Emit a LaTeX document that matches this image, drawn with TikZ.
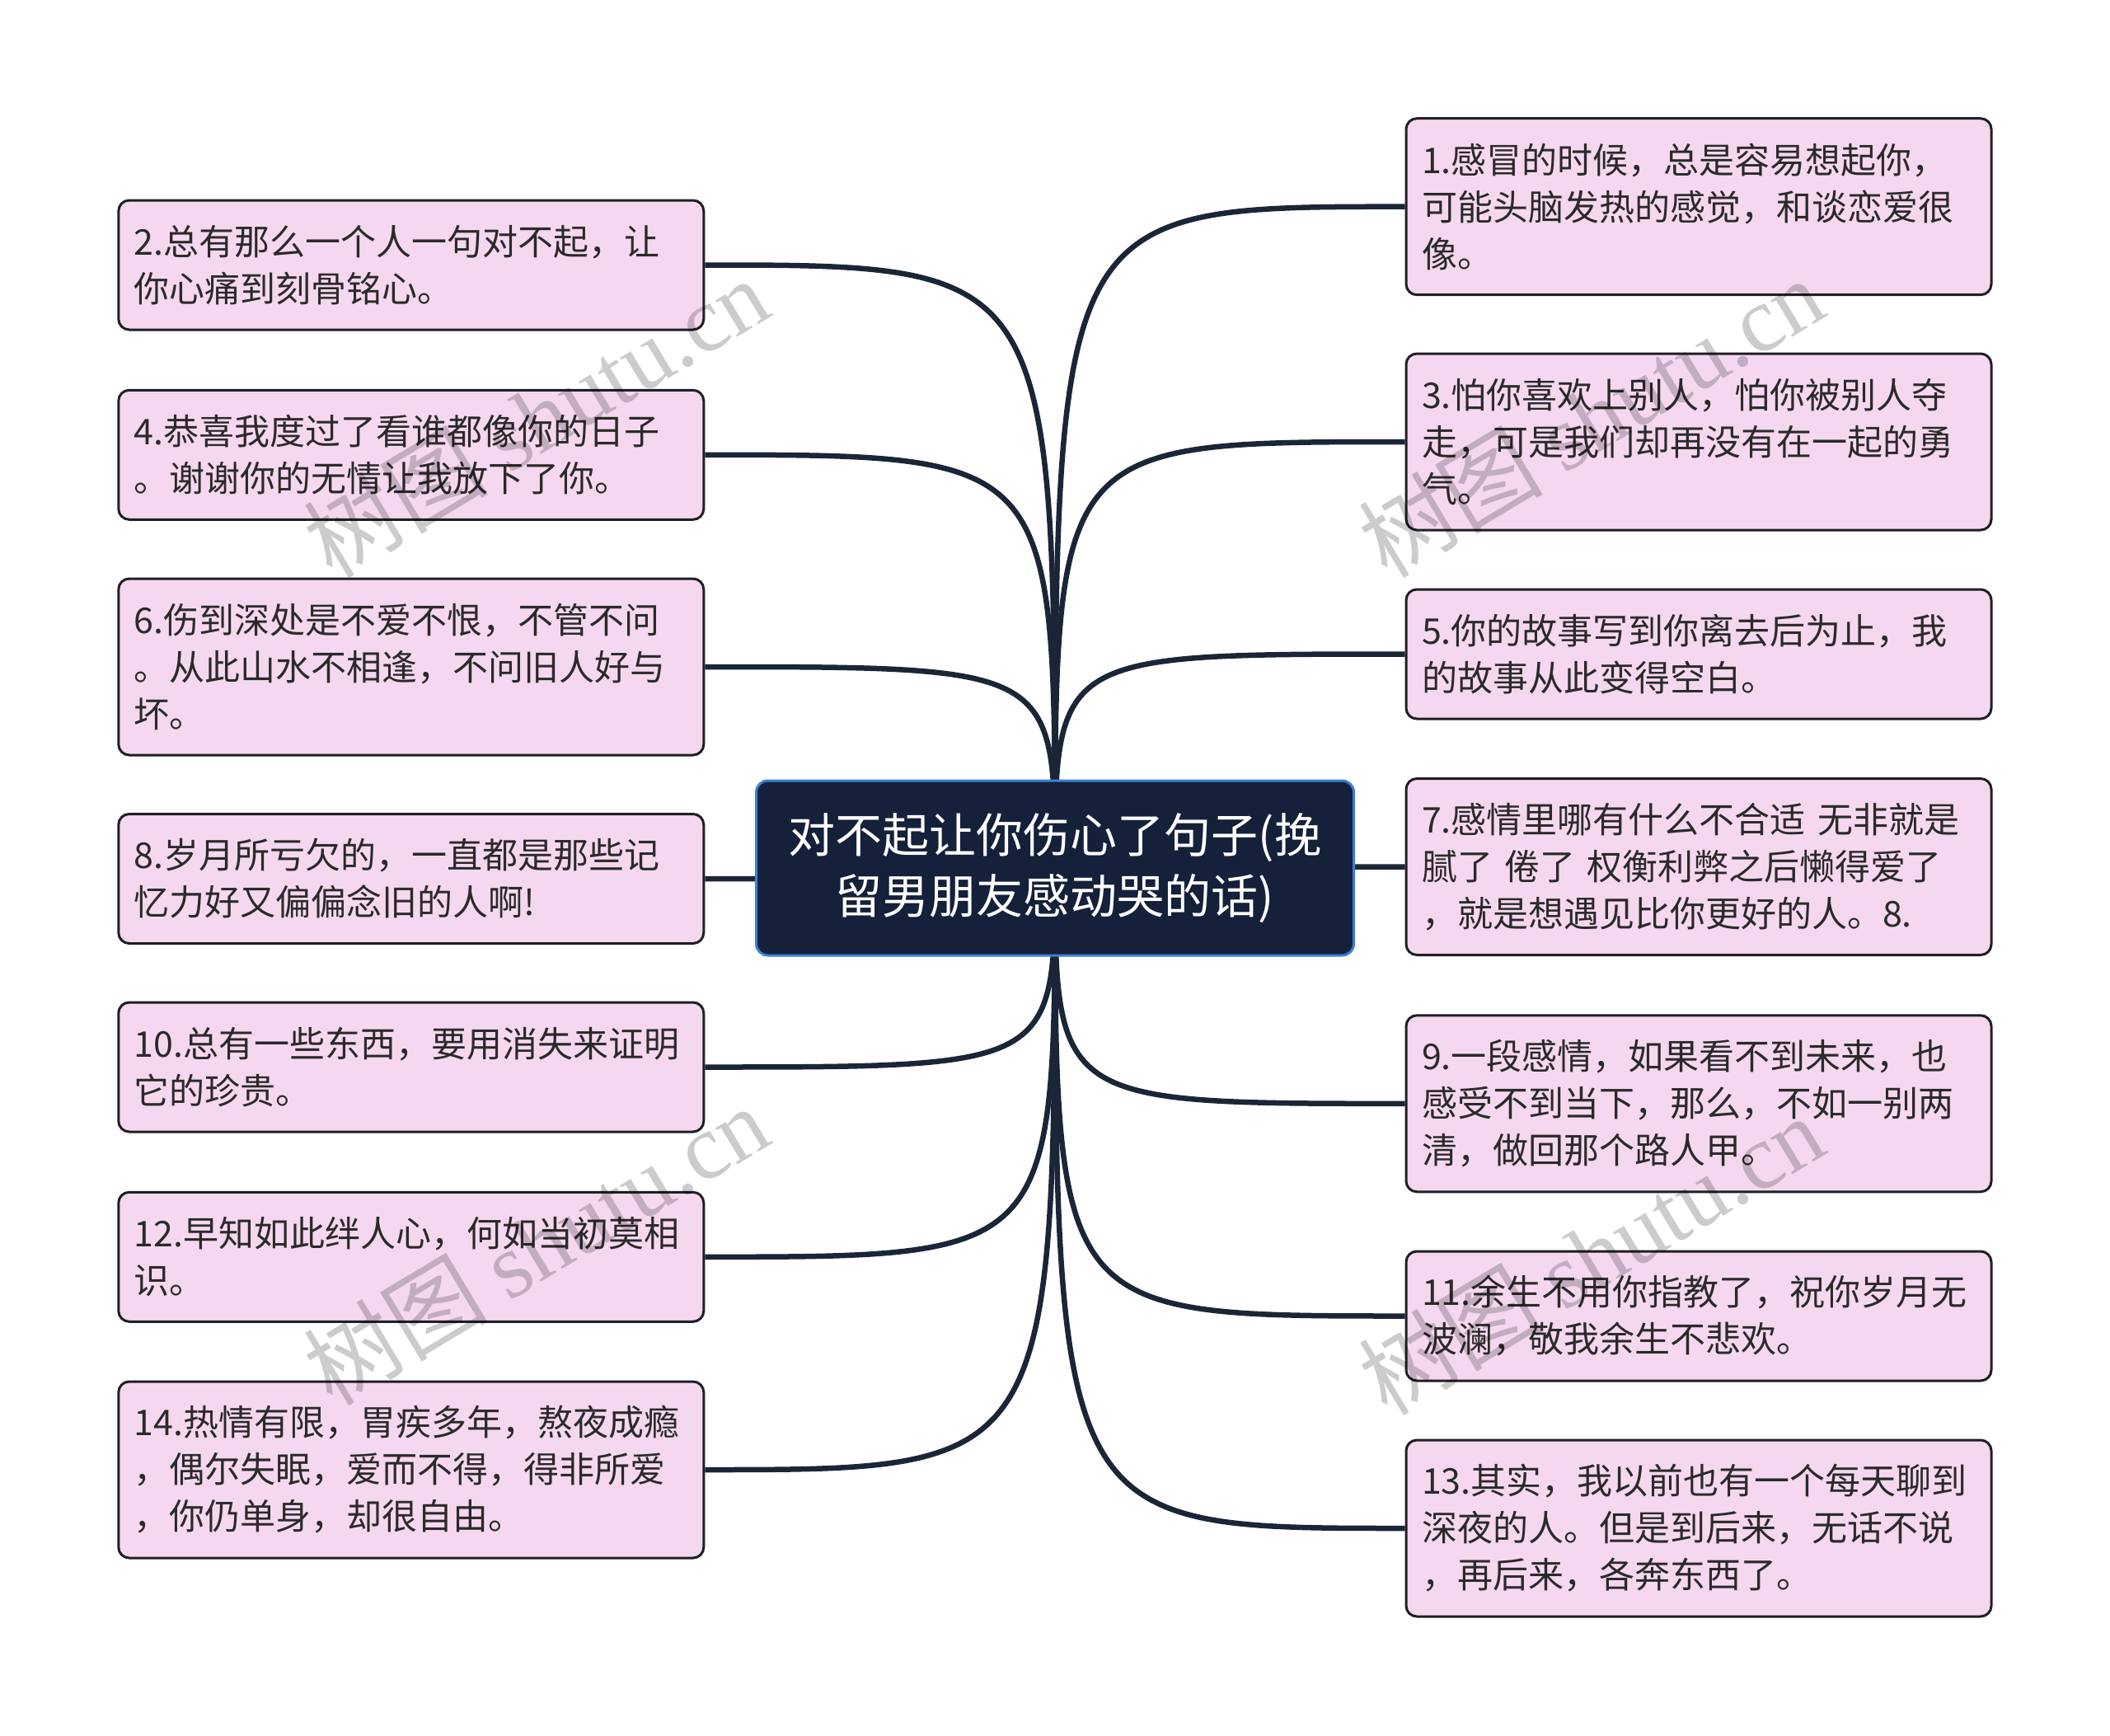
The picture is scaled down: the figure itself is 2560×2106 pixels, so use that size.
\documentclass[tikz,border=0pt]{standalone}
\usepackage{fontspec}
\setmainfont{Noto Sans CJK SC}
\newfontfamily\wmserif{Liberation Serif}
\pgfdeclarelayer{bglayer}
\pgfdeclarelayer{connlayer}
\pgfsetlayers{bglayer,connlayer,main}
\definecolor{leaffill}{HTML}{F5D8F0}
\definecolor{leafdraw}{HTML}{1F1F24}
\definecolor{rootfill}{HTML}{15213A}
\definecolor{rootdraw}{HTML}{3D7FD6}
\definecolor{connc}{HTML}{1A2637}
\definecolor{txt}{HTML}{2A2A2A}
\tikzset{
  leaf/.style={rectangle, rounded corners=13, fill=leaffill, draw=leafdraw, line width=3,
    minimum width=710, text width=672, inner xsep=19, inner ysep=0, align=left,
    font=\fontsize{43}{57}\selectfont, text=txt},
  two/.style={minimum height=157},
  three/.style={minimum height=214},
  root/.style={rectangle, rounded corners=14, fill=rootfill, draw=rootdraw, line width=3,
    minimum width=725, minimum height=212, align=center, text=white,
    font=\fontsize{57}{74}\selectfont},
  conn/.style={draw=connc, line width=6.5},
  wm/.style={text=black, text opacity=0.2, font=\fontsize{112}{112}\selectfont, inner sep=0}
}
\begin{document}
\begin{tikzpicture}[x=1pt,y=-1pt]
\begin{pgfonlayer}{bglayer}
\fill[white] (0,0) rectangle (2560,2106);
\end{pgfonlayer}
\useasboundingbox (0,0) rectangle (2560,2106);

\node[root] (c) at (1280,1053) {对不起让你伤心了句子(挽\\留男朋友感动哭的话)};

% left
\node[leaf,two] (n2) at (498.8,321.5) {2.总有那么一个人一句对不起，让\\你心痛到刻骨铭心。};
\node[leaf,two] (n4) at (498.8,551.8) {4.恭喜我度过了看谁都像你的日子\\。谢谢你的无情让我放下了你。};
\node[leaf,three] (n6) at (498.8,809) {6.伤到深处是不爱不恨，不管不问\\。从此山水不相逢，不问旧人好与\\坏。};
\node[leaf,two] (n8) at (498.8,1066) {8.岁月所亏欠的，一直都是那些记\\忆力好又偏偏念旧的人啊!};
\node[leaf,two] (n10) at (498.8,1294.5) {10.总有一些东西，要用消失来证明\\它的珍贵。};
\node[leaf,two] (n12) at (498.8,1524.8) {12.早知如此绊人心，何如当初莫相\\识。};
\node[leaf,three] (n14) at (498.8,1783) {14.热情有限，胃疾多年，熬夜成瘾\\，偶尔失眠，爱而不得，得非所爱\\，你仍单身，却很自由。};

% right
\node[leaf,three] (n1) at (2061,250.7) {1.感冒的时候，总是容易想起你，\\可能头脑发热的感觉，和谈恋爱很\\像。};
\node[leaf,three] (n3) at (2061,536) {3.怕你喜欢上别人，怕你被别人夺\\走，可是我们却再没有在一起的勇\\气。};
\node[leaf,two] (n5) at (2061,793.5) {5.你的故事写到你离去后为止，我\\的故事从此变得空白。};
\node[leaf,three] (n7) at (2061,1051.5) {7.感情里哪有什么不合适 无非就是\\腻了 倦了 权衡利弊之后懒得爱了\\，就是想遇见比你更好的人。8.};
\node[leaf,three] (n9) at (2061,1338.8) {9.一段感情，如果看不到未来，也\\感受不到当下，那么，不如一别两\\清，做回那个路人甲。};
\node[leaf,two] (n11) at (2061,1596.5) {11.余生不用你指教了，祝你岁月无\\波澜，敬我余生不悲欢。};
\node[leaf,three] (n13) at (2061,1854) {13.其实，我以前也有一个每天聊到\\深夜的人。但是到后来，无话不说\\，再后来，各奔东西了。};

\begin{pgfonlayer}{connlayer}
\foreach \n in {n2,n4,n6,n8,n10,n12,n14}
  \draw[conn] (c.center) .. controls (c.center |- \n.east) .. (\n.east);
\foreach \n in {n1,n3,n5,n7,n9,n11,n13}
  \draw[conn] (c.center) .. controls (c.center |- \n.west) .. (\n.west);
\end{pgfonlayer}

% watermarks
\node[wm, rotate=31] (w1) at (650,506) {树图 {\wmserif shutu.cn}};
\node[wm, rotate=31] (w2) at (1930,506) {树图 {\wmserif shutu.cn}};
\node[wm, rotate=31] (w3) at (650,1510) {树图 {\wmserif shutu.cn}};
\node[wm, rotate=31] (w4) at (1930,1522) {树图 {\wmserif shutu.cn}};
\end{tikzpicture}
\end{document}
